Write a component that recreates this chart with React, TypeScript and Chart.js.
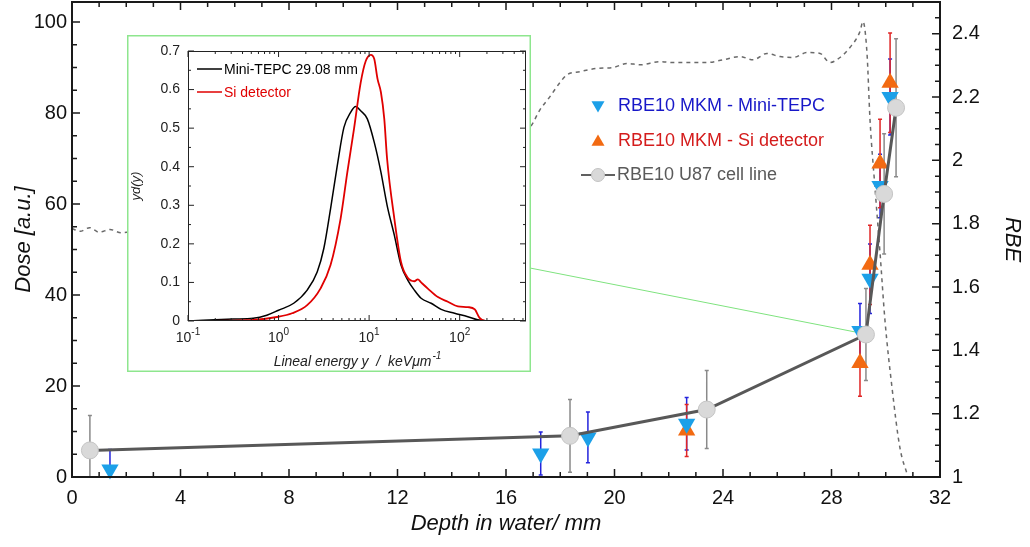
import { useEffect, useRef } from 'react';
import { Chart, registerables } from 'chart.js';
Chart.register(...registerables);

const FONT = '"Liberation Sans", Arial, Helvetica, sans-serif';

// ---- Main chart data ----
// Depth-dose profile (left axis, Dose [a.u.])
const doseDepth = [0, 0.3, 0.65, 1.0, 1.4, 1.8, 3, 6, 10, 14, 16.9, 17.25, 17.62, 17.99, 18.25, 18.73, 19.35, 19.95, 20.46, 20.94, 21.68, 22.16, 22.78, 23.41, 24.0, 24.63, 25.11, 25.62, 26.1, 26.58, 27.1, 27.58, 27.94, 28.31, 28.68, 29.05, 29.16, 29.31, 29.42, 29.6, 29.79, 29.97, 30.23, 30.52, 30.82];
const doseValue = [54.6, 54.0, 54.8, 53.8, 54.4, 53.7, 55, 57, 62, 70, 77, 80.7, 83.6, 86.7, 88.4, 89.1, 89.8, 90.0, 90.9, 90.6, 91.3, 91.1, 91.1, 91.1, 91.7, 92.4, 91.7, 93.1, 92.4, 92.2, 93.3, 93.1, 91.1, 92.2, 94.4, 97.9, 100.1, 93.0, 78.5, 63.8, 49.2, 34.5, 19.7, 6.5, 0];

// RBE10 U87 cell line (right axis)
const u87Depth = [0.66, 18.36, 23.4, 29.27, 29.94, 30.38];
const u87Rbe = [1.084, 1.13, 1.213, 1.45, 1.894, 2.166];
const u87Err = [0.11, 0.115, 0.123, 0.145, 0.19, 0.218];

// RBE10 MKM - Mini-TEPC
const tepcDepth = [1.4, 17.28, 19.02, 22.66, 29.05, 29.42, 29.79, 30.16];
const tepcRbe = [1.024, 1.074, 1.125, 1.168, 1.461, 1.626, 1.919, 2.2];
const tepcErr = [0.063, 0.068, 0.08, 0.083, 0.087, 0.11, 0.1, 0.12];

// RBE10 MKM - Si detector
const siDepth = [22.66, 29.05, 29.42, 29.79, 30.16];
const siRbe = [1.147, 1.36, 1.67, 1.99, 2.245];
const siErr = [0.082, 0.105, 0.125, 0.14, 0.157];

// Connector from inset to the 29.08 mm point
const connectorTo = [29.05, 1.455];

// Axis ticks
const depthTicks = [0, 4, 8, 12, 16, 20, 24, 28, 32];
const depthTickLabels = ['0', '4', '8', '12', '16', '20', '24', '28', '32'];
const depthMinor = [1, 2, 3, 5, 6, 7, 9, 10, 11, 13, 14, 15, 17, 18, 19, 21, 22, 23, 25, 26, 27, 29, 30, 31];
const doseTicks = [0, 20, 40, 60, 80, 100];
const doseTickLabels = ['0', '20', '40', '60', '80', '100'];
const doseMinor = [5, 10, 15, 25, 30, 35, 45, 50, 55, 65, 70, 75, 85, 90, 95];
const rbeTicks = [1, 1.2, 1.4, 1.6, 1.8, 2, 2.2, 2.4];
const rbeTickLabels = ['1', '1.2', '1.4', '1.6', '1.8', '2', '2.2', '2.4'];
const rbeMinor = [1.05, 1.1, 1.15, 1.25, 1.3, 1.35, 1.45, 1.5, 1.55, 1.65, 1.7, 1.75, 1.85, 1.9, 1.95, 2.05, 2.1, 2.15, 2.25, 2.3, 2.35, 2.45];

// ---- Inset data (microdosimetric spectra) ----
const tepcLineal = [0.1, 0.316, 0.525, 0.742, 1.0, 1.47, 2.07, 2.67, 3.16, 3.75, 4.45, 5.27, 6.25, 7.11, 8.07, 9.55, 11.4, 13.5, 15.8, 19.0, 22.5, 26.7, 31.6, 37.5, 48.4, 62.5, 87.9, 123, 158, 207, 300, 540];
const tepcYd = [0, 0.005, 0.007, 0.015, 0.028, 0.046, 0.08, 0.127, 0.188, 0.291, 0.403, 0.502, 0.541, 0.556, 0.545, 0.524, 0.463, 0.386, 0.3, 0.222, 0.145, 0.106, 0.08, 0.059, 0.046, 0.03, 0.02, 0.011, 0.003, 0, 0, 0];
const siLineal = [0.1, 0.525, 1.0, 1.41, 2.07, 2.9, 3.75, 4.84, 5.75, 6.81, 8.07, 9.18, 10.45, 11.4, 12.4, 13.5, 14.7, 15.8, 19.0, 22.5, 26.7, 31.6, 34.5, 37.5, 44.5, 57.5, 74.1, 95.5, 123, 147, 166, 191, 300, 540];
const siYd = [0, 0.003, 0.011, 0.02, 0.041, 0.084, 0.145, 0.265, 0.386, 0.498, 0.618, 0.674, 0.69, 0.679, 0.627, 0.593, 0.524, 0.42, 0.265, 0.153, 0.112, 0.103, 0.108, 0.1, 0.084, 0.062, 0.05, 0.038, 0.036, 0.03, 0.008, 0, 0, 0];

const linealTicks = [0.1, 1, 10, 100];
const linealExponents = ['-1', '0', '1', '2'];
const linealMinor = [0.2, 0.3, 0.4, 0.5, 0.6, 0.7, 0.8, 0.9, 2, 3, 4, 5, 6, 7, 8, 9, 20, 30, 40, 50, 60, 70, 80, 90, 200, 300, 400, 500];
const ydTicks = [0, 0.1, 0.2, 0.3, 0.4, 0.5, 0.6, 0.7];
const ydTickLabels = ['0', '0.1', '0.2', '0.3', '0.4', '0.5', '0.6', '0.7'];
const ydMinor = [0.05, 0.15, 0.25, 0.35, 0.45, 0.55, 0.65];

function pts(xs: number[], ys: number[]) {
  return xs.map((x, i) => ({ x, y: ys[i] }));
}

function zeroPad(s: any) {
  s.paddingTop = 0;
  s.paddingBottom = 0;
  s.paddingLeft = 0;
  s.paddingRight = 0;
}

function drawTicks(ctx: CanvasRenderingContext2D, area: any, scale: any, values: number[], len: number, sides: string[]) {
  ctx.beginPath();
  for (const v of values) {
    const p = scale.getPixelForValue(v);
    for (const s of sides) {
      if (s === 'bottom') { ctx.moveTo(p, area.bottom); ctx.lineTo(p, area.bottom - len); }
      if (s === 'top') { ctx.moveTo(p, area.top); ctx.lineTo(p, area.top + len); }
      if (s === 'left') { ctx.moveTo(area.left, p); ctx.lineTo(area.left + len, p); }
      if (s === 'right') { ctx.moveTo(area.right, p); ctx.lineTo(area.right - len, p); }
    }
  }
  ctx.stroke();
}

function triangle(ctx: CanvasRenderingContext2D, x: number, y: number, r: number, down: boolean, color: string) {
  const s = down ? -1 : 1;
  ctx.beginPath();
  ctx.moveTo(x, y - s * r);
  ctx.lineTo(x + r * 0.866, y + s * r * 0.5);
  ctx.lineTo(x - r * 0.866, y + s * r * 0.5);
  ctx.closePath();
  ctx.fillStyle = color;
  ctx.fill();
}

export default function App() {
  const mainRef = useRef<HTMLCanvasElement | null>(null);
  const insetRef = useRef<HTMLCanvasElement | null>(null);

  useEffect(() => {
    const mainExtras = {
      id: 'mainExtras',
      beforeDatasetsDraw(chart: any) {
        const { ctx, chartArea: a, scales } = chart;
        const xs = scales.x, ys = scales.y2;
        ctx.save();
        ctx.strokeStyle = '#7fe37f';
        ctx.lineWidth = 1;
        ctx.beginPath();
        ctx.moveTo(530, 268);
        ctx.lineTo(xs.getPixelForValue(connectorTo[0]), ys.getPixelForValue(connectorTo[1]));
        ctx.stroke();
        ctx.beginPath();
        ctx.rect(a.left, a.top, a.right - a.left, a.bottom - a.top);
        ctx.clip();
        const bars = (dx: number[], vy: number[], ey: number[], color: string) => {
          ctx.strokeStyle = color;
          ctx.lineWidth = 1.5;
          ctx.beginPath();
          dx.forEach((d, i) => {
            const px = xs.getPixelForValue(d);
            const top = ys.getPixelForValue(vy[i] + ey[i]);
            const bot = ys.getPixelForValue(vy[i] - ey[i]);
            ctx.moveTo(px, top); ctx.lineTo(px, bot);
            ctx.moveTo(px - 2, top); ctx.lineTo(px + 2, top);
            ctx.moveTo(px - 2, bot); ctx.lineTo(px + 2, bot);
          });
          ctx.stroke();
        };
        bars(tepcDepth, tepcRbe, tepcErr, '#2424dc');
        bars(siDepth, siRbe, siErr, '#e02626');
        bars(u87Depth, u87Rbe, u87Err, '#8a8a8a');
        ctx.restore();
      },
      afterDraw(chart: any) {
        const { ctx, chartArea: a, scales } = chart;
        ctx.save();
        ctx.strokeStyle = '#1a1a1a';
        ctx.lineWidth = 2;
        ctx.strokeRect(a.left, a.top, a.right - a.left, a.bottom - a.top);
        ctx.lineWidth = 1.5;
        drawTicks(ctx, a, scales.x, depthTicks, 8, ['bottom', 'top']);
        drawTicks(ctx, a, scales.x, depthMinor, 5, ['bottom', 'top']);
        drawTicks(ctx, a, scales.y, doseTicks, 8, ['left']);
        drawTicks(ctx, a, scales.y, doseMinor, 5, ['left']);
        drawTicks(ctx, a, scales.y2, rbeTicks, 8, ['right']);
        drawTicks(ctx, a, scales.y2, rbeMinor, 5, ['right']);

        // legend
        ctx.font = `18px ${FONT}`;
        ctx.textBaseline = 'middle';
        ctx.textAlign = 'left';
        triangle(ctx, 598, 105, 7.5, true, '#1ca0e8');
        ctx.fillStyle = '#1818c8';
        ctx.fillText('RBE10 MKM - Mini-TEPC', 618, 106);
        triangle(ctx, 598, 142, 7.5, false, '#f26a12');
        ctx.fillStyle = '#d41c1c';
        ctx.fillText('RBE10 MKM - Si detector', 618, 141);
        ctx.strokeStyle = '#606060';
        ctx.lineWidth = 2;
        ctx.beginPath(); ctx.moveTo(581, 175); ctx.lineTo(615, 175); ctx.stroke();
        ctx.beginPath(); ctx.arc(598, 175, 6.5, 0, Math.PI * 2);
        ctx.fillStyle = '#d9d9d9'; ctx.fill();
        ctx.strokeStyle = '#c2c2c2'; ctx.lineWidth = 1; ctx.stroke();
        ctx.fillStyle = '#5a5a5a';
        ctx.fillText('RBE10 U87 cell line', 617, 175);
        ctx.restore();
      },
    };

    const tickFont = { family: FONT, size: 20 };
    const titleFont = { family: FONT, size: 22, style: 'italic' as const };

    const main = new Chart(mainRef.current!, {
      type: 'scatter',
      data: {
        datasets: [
          {
            label: 'RBE10 U87 cell line',
            data: pts(u87Depth, u87Rbe),
            yAxisID: 'y2',
            showLine: true,
            borderColor: '#585858',
            borderWidth: 3,
            pointStyle: 'circle',
            pointRadius: 8.5,
            pointBackgroundColor: '#d9d9d9',
            pointBorderColor: '#c4c4c4',
            pointBorderWidth: 1,
            clip: false,
          } as any,
          {
            label: 'RBE10 MKM - Mini-TEPC',
            data: pts(tepcDepth, tepcRbe),
            yAxisID: 'y2',
            showLine: false,
            pointStyle: 'triangle',
            rotation: 180,
            pointRadius: 10,
            pointBackgroundColor: '#1ca0e8',
            pointBorderColor: '#1ca0e8',
            pointBorderWidth: 0,
            clip: false,
          } as any,
          {
            label: 'RBE10 MKM - Si detector',
            data: pts(siDepth, siRbe),
            yAxisID: 'y2',
            showLine: false,
            pointStyle: 'triangle',
            pointRadius: 10,
            pointBackgroundColor: '#f26a12',
            pointBorderColor: '#f26a12',
            pointBorderWidth: 0,
            clip: false,
          } as any,
          {
            label: 'Dose',
            data: pts(doseDepth, doseValue),
            yAxisID: 'y',
            showLine: true,
            borderColor: '#6a6a6a',
            borderWidth: 1.5,
            borderDash: [4, 4],
            pointRadius: 0,
            cubicInterpolationMode: 'monotone',
          } as any,
        ],
      },
      options: {
        responsive: false,
        animation: false,
        devicePixelRatio: 1,
        layout: { autoPadding: false, padding: { top: 2, left: 0, right: 0, bottom: 0 } },
        plugins: { legend: { display: false }, tooltip: { enabled: false } },
        scales: {
          x: {
            type: 'linear',
            min: 0,
            max: 32,
            afterBuildTicks: (s: any) => { s.ticks = depthTicks.map((v) => ({ value: v })); },
            afterFit: (s: any) => { s.height = 70; zeroPad(s); },
            ticks: { font: tickFont, color: '#111', padding: 9, maxRotation: 0, autoSkip: false, callback: (_v: any, i: number) => depthTickLabels[i] },
            grid: { display: false, drawTicks: false },
            border: { display: false },
            title: { display: true, text: 'Depth in water/ mm', font: titleFont, color: '#111', padding: { top: 0, bottom: 10 } },
          },
          y: {
            type: 'linear',
            position: 'left',
            min: 0,
            max: 104.4,
            afterBuildTicks: (s: any) => { s.ticks = doseTicks.map((v) => ({ value: v })); },
            afterFit: (s: any) => { s.width = 72; zeroPad(s); },
            ticks: { font: tickFont, color: '#111', padding: 5, callback: (_v: any, i: number) => doseTickLabels[i] },
            grid: { display: false, drawTicks: false },
            border: { display: false },
            title: { display: true, text: 'Dose [a.u.]', font: titleFont, color: '#111', padding: { top: 11, bottom: 0 } },
          },
          y2: {
            type: 'linear',
            position: 'right',
            min: 1,
            max: 2.5,
            afterBuildTicks: (s: any) => { s.ticks = rbeTicks.map((v) => ({ value: v })); },
            afterFit: (s: any) => { s.width = 90; zeroPad(s); },
            ticks: { font: tickFont, color: '#111', padding: 12, callback: (_v: any, i: number) => rbeTickLabels[i] },
            grid: { display: false, drawTicks: false },
            border: { display: false },
            title: { display: true, text: 'RBE', font: titleFont, color: '#111', padding: { top: 5, bottom: 0 } },
          },
        },
      } as any,
      plugins: [mainExtras],
    });

    const insetExtras = {
      id: 'insetExtras',
      beforeDraw(chart: any) {
        const { ctx, width, height } = chart;
        ctx.save();
        ctx.fillStyle = '#ffffff';
        ctx.fillRect(0, 0, width, height);
        ctx.strokeStyle = '#8ee68e';
        ctx.lineWidth = 1.5;
        ctx.strokeRect(0.75, 0.75, width - 1.5, height - 1.5);
        ctx.restore();
      },
      afterDraw(chart: any) {
        const { ctx, chartArea: a, scales } = chart;
        ctx.save();
        ctx.strokeStyle = '#222';
        ctx.lineWidth = 1;
        ctx.strokeRect(a.left + 0.5, a.top + 0.5, a.right - a.left - 1, a.bottom - a.top - 1);
        drawTicks(ctx, a, scales.x, linealTicks, 6, ['bottom', 'top']);
        drawTicks(ctx, a, scales.x, linealMinor, 3, ['bottom', 'top']);
        drawTicks(ctx, a, scales.y, ydTicks, 6, ['left', 'right']);
        drawTicks(ctx, a, scales.y, ydMinor, 3, ['left', 'right']);

        // x tick labels 10^n
        ctx.fillStyle = '#222';
        ctx.textBaseline = 'alphabetic';
        ctx.textAlign = 'left';
        linealTicks.forEach((v, i) => {
          const px = scales.x.getPixelForValue(v);
          ctx.font = `14px ${FONT}`;
          const w1 = ctx.measureText('10').width;
          ctx.font = `10px ${FONT}`;
          const w2 = ctx.measureText(linealExponents[i]).width;
          const x0 = px - (w1 + w2) / 2;
          ctx.font = `14px ${FONT}`;
          ctx.fillText('10', x0, a.bottom + 21);
          ctx.font = `10px ${FONT}`;
          ctx.fillText(linealExponents[i], x0 + w1, a.bottom + 14);
        });

        // x title with superscript
        const cx = (a.left + a.right) / 2;
        ctx.font = `italic 14px ${FONT}`;
        const t1 = 'Lineal energy y  /  keV\u03bcm';
        const tw1 = ctx.measureText(t1).width;
        ctx.font = `italic 10px ${FONT}`;
        const tw2 = ctx.measureText('-1').width;
        const tx = cx - (tw1 + tw2) / 2;
        ctx.font = `italic 14px ${FONT}`;
        ctx.fillText(t1, tx, a.bottom + 45);
        ctx.font = `italic 10px ${FONT}`;
        ctx.fillText('-1', tx + tw1 + 1, a.bottom + 38);

        // inset legend
        ctx.lineWidth = 1.5;
        ctx.strokeStyle = '#000';
        ctx.beginPath(); ctx.moveTo(70, 34); ctx.lineTo(95, 34); ctx.stroke();
        ctx.strokeStyle = '#e00000';
        ctx.beginPath(); ctx.moveTo(70, 57); ctx.lineTo(95, 57); ctx.stroke();
        ctx.font = `14px ${FONT}`;
        ctx.textBaseline = 'middle';
        ctx.fillStyle = '#000';
        ctx.fillText('Mini-TEPC 29.08 mm', 97, 35);
        ctx.fillStyle = '#e00000';
        ctx.fillText('Si detector', 97, 58);
        ctx.restore();
      },
    };

    const inset = new Chart(insetRef.current!, {
      type: 'scatter',
      data: {
        datasets: [
          {
            label: 'Si detector',
            data: pts(siLineal, siYd),
            showLine: true,
            borderColor: '#e00000',
            borderWidth: 1.8,
            pointRadius: 0,
            cubicInterpolationMode: 'monotone',
          } as any,
          {
            label: 'Mini-TEPC 29.08 mm',
            data: pts(tepcLineal, tepcYd),
            showLine: true,
            borderColor: '#000000',
            borderWidth: 1.5,
            pointRadius: 0,
            cubicInterpolationMode: 'monotone',
          } as any,
        ],
      },
      options: {
        responsive: false,
        animation: false,
        devicePixelRatio: 1,
        layout: { autoPadding: false, padding: { top: 16, right: 5, left: 0, bottom: 0 } },
        plugins: { legend: { display: false }, tooltip: { enabled: false } },
        scales: {
          x: {
            type: 'logarithmic',
            min: 0.1,
            max: 540,
            afterBuildTicks: (s: any) => { s.ticks = linealTicks.map((v) => ({ value: v })); },
            afterFit: (s: any) => { s.height = 51; zeroPad(s); },
            ticks: { display: false },
            grid: { display: false, drawTicks: false },
            border: { display: false },
            title: { display: false },
          },
          y: {
            type: 'linear',
            min: 0,
            max: 0.7,
            afterBuildTicks: (s: any) => { s.ticks = ydTicks.map((v) => ({ value: v })); },
            afterFit: (s: any) => { s.width = 61; zeroPad(s); },
            ticks: { font: { family: FONT, size: 14 }, color: '#222', padding: 8, callback: (_v: any, i: number) => ydTickLabels[i] },
            grid: { display: false, drawTicks: false },
            border: { display: false },
            title: { display: true, text: 'yd(y)', font: { family: FONT, size: 13, style: 'italic' }, color: '#222', padding: { top: 2, bottom: 0 } },
          },
        },
      } as any,
      plugins: [insetExtras],
    });

    return () => {
      main.destroy();
      inset.destroy();
    };
  }, []);

  return (
    <div style={{ position: 'fixed', left: 0, top: 0, width: 1030, height: 547, background: '#fff' }}>
      <canvas ref={mainRef} width={1030} height={547} style={{ position: 'absolute', left: 0, top: 0, width: 1030, height: 547 }} />
      <canvas ref={insetRef} width={404} height={337} style={{ position: 'absolute', left: 127, top: 35, width: 404, height: 337 }} />
    </div>
  );
}
